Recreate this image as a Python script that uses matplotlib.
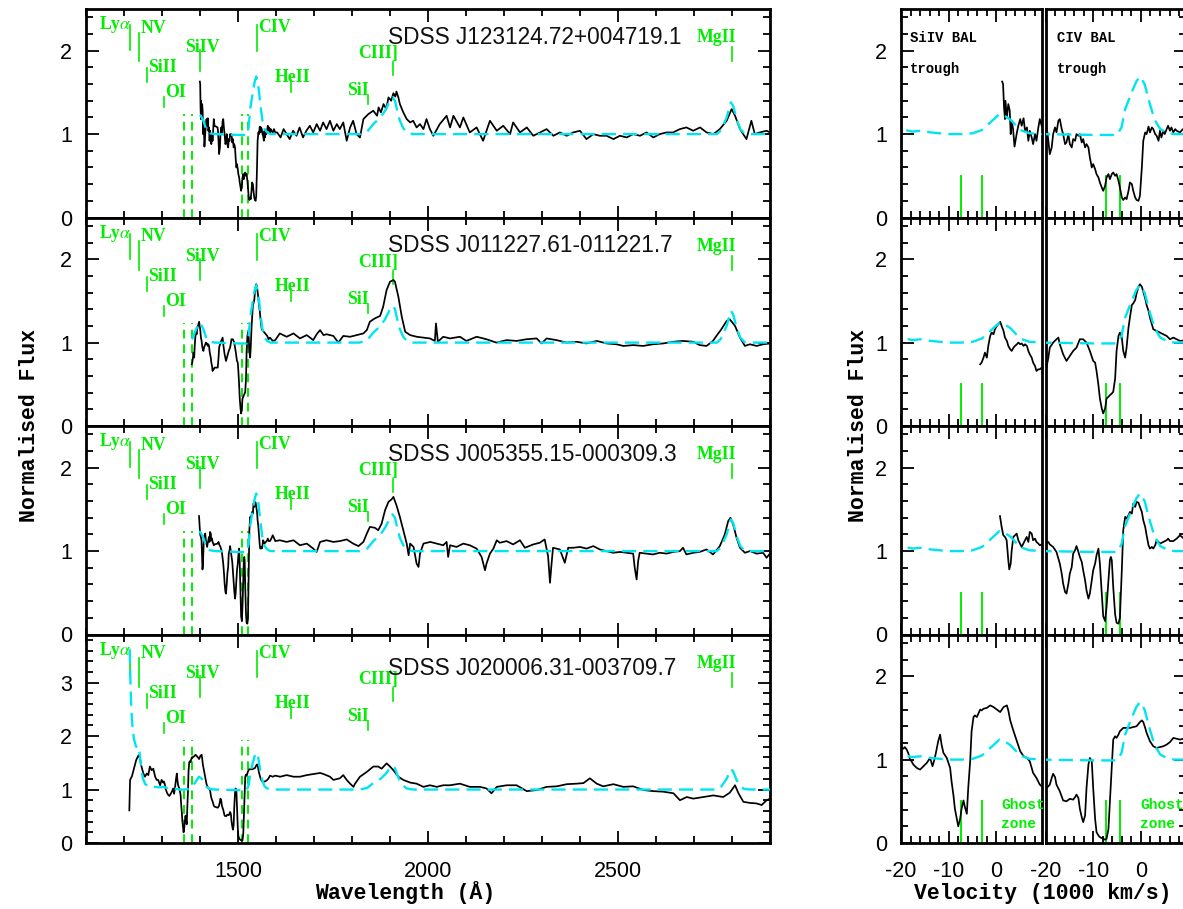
import numpy as np
import matplotlib
matplotlib.use("Agg")
import matplotlib.pyplot as plt
from matplotlib.ticker import MultipleLocator

mpl = matplotlib
mpl.rcParams["font.family"] = ["Liberation Sans", "DejaVu Sans"]
mpl.rcParams["axes.unicode_minus"] = False
mpl.rcParams["mathtext.fontset"] = "stix"

# ------------------------------
# 1. Data
# ------------------------------
C_LIGHT = 299.792          # speed of light in 1000 km/s
LAM_SIIV = 1394.0
LAM_CIV = 1549.0

names = ["SDSS J123124.72+004719.1", "SDSS J011227.61-011221.7",
         "SDSS J005355.15-000309.3", "SDSS J020006.31-003709.7"]

line_names = ["Ly$\\alpha$", "NV", "SiII", "OI", "SiIV", "CIV", "HeII", "SiI", "CIII]", "MgII"]
line_wl = [1216, 1240, 1261, 1304, 1400, 1549, 1640, 1842, 1909, 2799]

# ghost-zone velocity limits (1000 km/s) for SiIV and CIV
ghost_si = [-7.5, -3.0]
ghost_civ = [-7.4, -4.3]

# composite spectrum (cyan dashed)
comp_wl = [1215, 1217, 1219, 1222, 1226, 1231, 1236, 1239, 1242, 1246, 1250, 1256, 1265, 1280,
           1295, 1305, 1312, 1320, 1330, 1347, 1360, 1371, 1380, 1389, 1397, 1402, 1408, 1417,
           1426, 1440, 1500, 1523, 1528, 1532, 1539, 1544, 1548, 1553, 1559, 1564, 1570, 1577,
           1585, 1820, 1840, 1856, 1875, 1887, 1900, 1907, 1913, 1920, 1926, 1935, 1944, 1960,
           2760, 2770, 2786, 2797, 2803, 2812, 2822, 2832, 2850, 2900]
comp_fl = [3.62, 3.00, 2.55, 2.20, 1.95, 1.82, 1.76, 1.78, 1.62, 1.36, 1.20, 1.10, 1.06, 1.05,
           1.04, 1.05, 1.03, 1.04, 1.02, 1.00, 1.00, 1.01, 1.05, 1.15, 1.24, 1.22, 1.17, 1.05,
           1.01, 1.00, 0.99, 0.99, 1.08, 1.30, 1.50, 1.63, 1.69, 1.60, 1.35, 1.17, 1.06, 1.02,
           1.00, 1.00, 1.03, 1.12, 1.20, 1.28, 1.40, 1.44, 1.40, 1.26, 1.16, 1.07, 1.02, 1.00,
           1.00, 1.04, 1.20, 1.38, 1.34, 1.18, 1.06, 1.01, 1.00, 1.00]

# --- J123124.72+004719.1 ---
si_v1 = [1.2, 1.4, 1.6, 1.8, 1.9, 2.2, 2.5, 2.8, 3.0, 3.2, 3.5, 3.8, 4.0, 4.3, 4.6, 5.0, 5.3,
         5.7, 6.0, 6.4, 6.7, 7.0, 7.4, 7.7, 8.1, 8.4, 8.8, 9.1, 9.5]
si_f1 = [1.63, 1.60, 1.32, 1.18, 1.40, 1.20, 1.36, 1.28, 1.00, 1.16, 1.06, 0.85, 0.92, 1.02,
         1.10, 1.18, 1.10, 1.19, 1.04, 1.08, 0.92, 1.04, 0.96, 0.88, 1.00, 0.92, 1.08, 1.18, 1.10]
civ_v1 = [-19.9, -19.6, -19.4, -19.1, -18.7, -18.4, -18.0, -17.7, -17.3, -17.0, -16.6, -16.3,
          -15.9, -15.6, -15.2, -14.9, -14.5, -14.2, -13.8, -13.5, -13.1, -12.8, -12.4, -12.1,
          -11.7, -11.4, -11.0, -10.7, -10.3, -10.0, -9.6, -9.3, -8.9, -8.6, -8.2, -7.9, -7.5,
          -7.2, -6.8, -6.5, -6.1, -5.8, -5.4, -5.1, -4.7, -4.4, -4.0, -3.7, -3.3, -3.0, -2.6,
          -2.3, -1.9, -1.6, -1.2, -0.9, -0.5, -0.2, 0.2, 0.5, 0.9, 1.2, 1.6, 1.9, 2.3, 2.6, 3.0,
          3.3, 3.7, 4.0, 4.3, 4.7, 5.0, 5.4, 5.7, 6.1, 6.4, 6.8, 7.2, 7.5, 8.2, 8.8, 9.5]
civ_f1 = [1.08, 1.02, 0.92, 0.76, 0.84, 1.00, 1.08, 1.02, 1.16, 1.18, 1.06, 1.00, 0.88, 0.90,
          1.00, 0.88, 0.84, 0.94, 0.92, 1.00, 0.98, 1.00, 0.90, 0.94, 0.84, 0.88, 0.84, 0.72,
          0.60, 0.64, 0.58, 0.52, 0.48, 0.42, 0.36, 0.32, 0.38, 0.48, 0.52, 0.46, 0.52, 0.54,
          0.50, 0.52, 0.44, 0.36, 0.24, 0.21, 0.24, 0.22, 0.32, 0.42, 0.40, 0.32, 0.24, 0.21,
          0.20, 0.26, 0.60, 0.92, 1.02, 1.00, 1.09, 1.02, 1.08, 1.06, 1.00, 0.98, 0.92, 1.04,
          0.96, 1.04, 1.00, 1.06, 1.10, 1.04, 1.08, 1.02, 1.06, 1.04, 1.02, 1.06, 1.02]
wl1 = [1603, 1612, 1620, 1628, 1636, 1645, 1654, 1662, 1671, 1680, 1689, 1698, 1707, 1716, 1724,
       1733, 1742, 1751, 1760, 1768, 1777, 1786, 1795, 1803, 1812, 1821, 1830, 1843, 1856, 1866,
       1870, 1876, 1883, 1890, 1896, 1903, 1909, 1914, 1917, 1922, 1926, 1935, 1944, 1953, 1961,
       1970, 1979, 1988, 1996, 2005, 2014, 2031, 2049, 2058, 2067, 2084, 2093, 2110, 2128, 2145,
       2163, 2181, 2198, 2216, 2224, 2242, 2260, 2277, 2295, 2312, 2330, 2347, 2365, 2382, 2400,
       2417, 2435, 2452, 2470, 2488, 2505, 2523, 2540, 2558, 2575, 2593, 2610, 2628, 2645, 2663,
       2680, 2698, 2716, 2733, 2751, 2768, 2786, 2799, 2808, 2821, 2838, 2851, 2860, 2873, 2891,
       2900]
fl1 = [1.02, 0.96, 1.06, 1.00, 0.94, 1.04, 0.98, 1.08, 0.96, 1.04, 1.10, 1.02, 1.12, 1.04, 1.14,
       1.06, 1.16, 1.04, 1.12, 1.06, 1.14, 0.92, 1.08, 1.16, 1.00, 0.96, 1.18, 1.24, 1.28, 1.22,
       1.32, 1.26, 1.36, 1.30, 1.44, 1.40, 1.49, 1.45, 1.51, 1.44, 1.36, 1.26, 1.18, 1.14, 1.16,
       1.08, 1.12, 1.06, 1.18, 1.06, 0.98, 1.12, 1.22, 1.08, 1.22, 1.08, 1.20, 1.02, 1.08, 0.92,
       1.16, 1.04, 1.10, 1.00, 1.14, 1.02, 1.08, 0.98, 1.02, 1.06, 0.98, 1.02, 0.98, 1.02, 1.04,
       0.94, 1.00, 0.98, 0.98, 0.94, 0.98, 0.96, 1.00, 0.98, 1.02, 0.96, 1.00, 1.02, 1.02, 1.06,
       1.08, 1.04, 1.08, 1.02, 1.00, 1.06, 1.16, 1.30, 1.22, 1.06, 0.94, 1.16, 1.00, 1.02, 1.04,
       1.02]

# --- J011227.61-011221.7 ---
si_v2 = [-3.4, -3.1, -2.7, -2.4, -2.0, -1.7, -1.3, -1.0, -0.6, -0.3, 0.1, 0.4, 0.8, 1.1, 1.5,
         1.8, 2.2, 2.5, 2.9, 3.2, 3.6, 3.9, 4.3, 4.6, 5.0, 5.3, 5.7, 6.0, 6.4, 6.7, 7.0, 7.4,
         7.7, 8.1, 8.4, 8.8, 9.1, 9.5]
si_f2 = [0.74, 0.76, 0.82, 0.88, 0.82, 0.96, 1.08, 1.12, 1.10, 1.16, 1.20, 1.22, 1.25, 1.20,
         1.14, 1.06, 1.02, 0.96, 0.92, 0.90, 0.94, 0.96, 0.98, 1.00, 0.98, 0.99, 0.96, 0.98,
         0.96, 0.90, 0.86, 0.82, 0.76, 0.72, 0.66, 0.68, 0.68, 0.70]
civ_v2 = [-19.8, -19.4, -19.1, -18.4, -17.7, -17.3, -17.0, -16.3, -15.6, -14.9, -14.2, -13.5,
          -12.8, -12.1, -11.4, -10.7, -10.0, -9.6, -9.3, -8.9, -8.6, -8.2, -7.9, -7.5, -7.2,
          -6.8, -6.5, -6.1, -5.8, -5.4, -5.1, -4.7, -4.4, -4.0, -3.7, -3.3, -3.0, -2.6, -2.3,
          -1.9, -1.6, -1.2, -0.9, -0.5, -0.2, 0.2, 0.5, 0.9, 1.2, 1.6, 1.9, 2.3, 2.6, 3.3, 4.0,
          4.7, 5.4, 6.1, 6.8, 7.5, 8.2, 9.5]
civ_f2 = [0.70, 0.82, 0.94, 1.00, 1.04, 1.06, 0.98, 0.86, 0.78, 0.84, 0.90, 0.94, 1.04, 1.04,
          1.00, 0.90, 0.78, 0.76, 0.66, 0.49, 0.33, 0.21, 0.15, 0.21, 0.33, 0.35, 0.37, 0.39,
          0.41, 0.57, 0.90, 1.08, 1.12, 1.06, 0.90, 0.82, 0.94, 1.18, 1.30, 1.45, 1.47, 1.51,
          1.59, 1.67, 1.70, 1.67, 1.61, 1.53, 1.45, 1.38, 1.30, 1.22, 1.16, 1.14, 1.12, 1.10,
          1.08, 1.04, 1.06, 1.04, 1.02, 1.03]
wl2 = [1610, 1628, 1646, 1663, 1681, 1698, 1707, 1716, 1725, 1733, 1751, 1764, 1777, 1795, 1812,
       1830, 1839, 1847, 1860, 1874, 1882, 1891, 1900, 1909, 1913, 1922, 1931, 1940, 1953, 1970,
       1988, 2005, 2018, 2021, 2026, 2040, 2058, 2084, 2101, 2128, 2154, 2180, 2207, 2233, 2259,
       2286, 2299, 2312, 2338, 2365, 2391, 2417, 2444, 2470, 2496, 2514, 2540, 2566, 2592, 2619,
       2645, 2671, 2698, 2715, 2733, 2750, 2759, 2772, 2786, 2794, 2808, 2821, 2834, 2847, 2865,
       2882, 2900]
fl2 = [1.11, 1.07, 1.11, 1.05, 1.09, 1.03, 1.10, 1.15, 1.09, 1.10, 1.08, 1.00, 1.08, 1.07, 1.09,
       1.11, 1.15, 1.25, 1.29, 1.32, 1.43, 1.63, 1.73, 1.75, 1.73, 1.55, 1.31, 1.13, 1.09, 1.07,
       1.06, 1.05, 1.02, 1.23, 1.01, 1.07, 1.05, 1.07, 1.02, 1.07, 1.04, 1.00, 1.03, 1.02, 1.04,
       1.05, 0.99, 1.05, 1.03, 1.00, 1.01, 0.99, 1.02, 0.99, 0.98, 0.96, 0.97, 0.96, 0.98, 0.99,
       1.01, 1.02, 1.01, 0.97, 0.96, 1.02, 1.08, 1.16, 1.26, 1.28, 1.20, 1.06, 0.96, 0.98, 0.96,
       0.98, 0.99]

# --- J005355.15-000309.3 ---
si_v3 = [0.75, 1.1, 1.45, 1.8, 2.15, 2.5, 2.7, 3.0, 3.2, 3.55, 3.9, 4.25, 4.6, 4.95, 5.3, 5.65,
         6.0, 6.35, 6.7, 7.0, 7.4, 7.7, 8.1, 8.4, 8.8, 9.1, 9.5]
si_f3 = [1.42, 1.29, 1.19, 1.17, 1.13, 0.89, 0.78, 0.85, 1.00, 1.17, 1.19, 1.21, 1.13, 1.09,
         1.05, 1.09, 1.13, 1.17, 1.11, 1.23, 1.21, 1.13, 1.15, 1.11, 1.09, 1.07, 1.08]
civ_v3 = [-19.9, -19.4, -19.1, -18.4, -17.7, -17.0, -16.6, -16.3, -15.9, -15.6, -15.2, -14.9,
          -14.5, -14.2, -13.8, -13.5, -13.1, -12.8, -12.4, -12.1, -11.7, -11.4, -11.0, -10.7,
          -10.3, -10.0, -9.6, -9.3, -8.9, -8.6, -8.2, -7.9, -7.5, -7.2, -6.8, -6.5, -6.3, -6.1,
          -5.8, -5.4, -5.1, -4.7, -4.4, -4.0, -3.7, -3.3, -3.0, -2.6, -2.3, -1.9, -1.6, -1.2,
          -0.9, -0.5, -0.2, 0.2, 0.5, 0.9, 1.2, 1.6, 1.9, 2.3, 2.6, 3.0, 3.3, 3.7, 4.0, 4.7,
          5.4, 5.7, 6.1, 6.8, 7.5, 8.2, 9.0, 9.5]
civ_f3 = [1.09, 1.11, 1.08, 1.05, 0.99, 0.85, 0.73, 0.61, 0.51, 0.49, 0.61, 0.73, 0.81, 0.97,
          1.01, 1.06, 0.99, 0.93, 0.87, 0.77, 0.65, 0.53, 0.43, 0.49, 0.65, 0.77, 0.85, 0.95,
          1.03, 0.85, 0.49, 0.22, 0.16, 0.33, 0.65, 0.89, 0.93, 0.89, 0.57, 0.24, 0.14, 0.13,
          0.20, 0.77, 1.25, 1.41, 1.39, 1.43, 1.47, 1.45, 1.57, 1.53, 1.59, 1.58, 1.53, 1.47,
          1.37, 1.29, 1.19, 1.07, 1.03, 1.05, 1.03, 1.07, 1.13, 1.11, 1.09, 1.11, 1.13, 1.15,
          1.12, 1.12, 1.15, 1.19, 1.15, 1.12]
wl3 = [1610, 1628, 1646, 1663, 1681, 1698, 1707, 1716, 1733, 1751, 1768, 1786, 1803, 1817, 1830,
       1839, 1847, 1860, 1869, 1878, 1887, 1896, 1904, 1909, 1917, 1926, 1935, 1944, 1949, 1953,
       1962, 1970, 1975, 1979, 1988, 2006, 2023, 2040, 2049, 2053, 2058, 2075, 2093, 2110, 2128,
       2141, 2150, 2154, 2163, 2172, 2181, 2189, 2207, 2224, 2242, 2255, 2277, 2294, 2307, 2316,
       2321, 2325, 2329, 2347, 2360, 2369, 2382, 2400, 2417, 2435, 2452, 2470, 2487, 2505, 2522,
       2540, 2544, 2549, 2553, 2557, 2575, 2592, 2610, 2628, 2645, 2663, 2671, 2680, 2698, 2715,
       2733, 2750, 2768, 2781, 2790, 2796, 2803, 2812, 2821, 2834, 2847, 2865, 2882, 2891, 2898]
fl3 = [1.13, 1.11, 1.13, 1.07, 1.09, 1.03, 0.99, 1.11, 1.13, 1.11, 1.12, 1.14, 1.09, 1.06, 1.11,
       1.21, 1.29, 1.28, 1.25, 1.33, 1.49, 1.59, 1.62, 1.65, 1.55, 1.41, 1.25, 1.09, 0.95, 1.09,
       1.05, 0.85, 0.81, 0.97, 1.09, 1.11, 1.09, 1.07, 1.11, 0.93, 1.07, 1.05, 1.09, 1.07, 1.03,
       0.93, 0.77, 0.85, 0.97, 1.03, 1.13, 1.10, 1.12, 1.08, 1.13, 1.04, 1.08, 1.10, 1.14, 0.94,
       0.62, 0.84, 1.04, 1.02, 0.86, 1.04, 1.04, 1.05, 1.03, 1.06, 1.02, 1.00, 0.98, 0.99, 0.98,
       0.97, 0.80, 0.66, 0.88, 0.98, 0.97, 0.96, 0.98, 0.97, 0.99, 1.00, 1.04, 0.96, 0.98, 0.99,
       1.02, 0.96, 1.06, 1.20, 1.36, 1.40, 1.32, 1.16, 1.04, 0.98, 1.00, 0.97, 0.98, 0.92, 0.96]

# --- J020006.31-003709.7 ---
pre_wl4 = [1214, 1216, 1221, 1224, 1228, 1232, 1238, 1242, 1246, 1251, 1255, 1260, 1264, 1268,
           1273, 1277, 1282, 1286, 1290, 1295, 1299]
pre_fl4 = [0.61, 1.18, 1.25, 1.33, 1.43, 1.55, 1.64, 1.58, 1.43, 1.30, 1.24, 1.30, 1.27, 1.43,
           1.36, 1.39, 1.24, 1.18, 1.18, 1.08, 1.18]
si_v4 = [-19.9, -19.5, -19.2, -18.8, -18.5, -18.1, -17.8, -17.4, -16.7, -16.0, -15.3, -14.6,
         -13.9, -13.4, -12.9, -12.2, -11.8, -11.5, -11.1, -10.4, -9.7, -9.4, -9.0, -8.7, -8.3,
         -8.0, -7.6, -7.3, -6.9, -6.6, -6.2, -5.9, -5.5, -5.2, -4.8, -4.5, -4.1, -3.4, -3.1,
         -2.7, -2.0, -1.3, -0.6, 0.1, 0.8, 1.5, 2.2, 2.5, 2.9, 3.6, 4.3, 5.0, 5.7, 6.4, 7.0,
         7.4, 7.7, 8.4, 9.1, 9.5]
si_f4 = [1.15, 1.13, 1.15, 1.12, 1.08, 1.00, 0.98, 0.94, 0.90, 0.88, 0.92, 0.96, 1.02, 0.92,
         1.02, 1.22, 1.30, 1.18, 1.08, 1.02, 0.90, 0.74, 0.57, 0.41, 0.29, 0.20, 0.29, 0.41,
         0.51, 0.43, 0.35, 0.66, 0.98, 1.34, 1.51, 1.53, 1.51, 1.60, 1.59, 1.61, 1.62, 1.65,
         1.63, 1.60, 1.57, 1.63, 1.65, 1.59, 1.47, 1.34, 1.22, 1.10, 1.04, 1.02, 0.98, 0.90,
         0.84, 0.78, 0.70, 0.68]
civ_v4 = [-19.8, -19.4, -19.1, -18.7, -18.4, -18.0, -17.7, -17.0, -16.3, -15.6, -14.9, -14.2,
          -13.8, -13.5, -13.1, -12.8, -12.4, -12.1, -11.7, -11.4, -11.0, -10.7, -10.3, -10.0,
          -9.6, -9.3, -8.9, -8.6, -7.9, -7.5, -7.2, -6.8, -6.5, -6.1, -5.8, -5.4, -5.1, -4.7,
          -4.4, -3.7, -3.0, -2.3, -1.6, -0.9, -0.2, 0.2, 0.5, 0.9, 1.2, 1.9, 2.6, 3.3, 4.0, 4.7,
          5.4, 6.1, 6.8, 7.5, 8.2, 9.5]
civ_f4 = [0.66, 0.68, 0.70, 0.78, 0.83, 0.79, 0.70, 0.62, 0.51, 0.50, 0.53, 0.52, 0.55, 0.58,
          0.54, 0.41, 0.31, 0.25, 0.33, 0.66, 0.94, 1.02, 0.98, 0.66, 0.29, 0.13, 0.09, 0.07,
          0.05, 0.04, 0.05, 0.17, 0.49, 0.94, 1.24, 1.28, 1.26, 1.30, 1.34, 1.38, 1.38, 1.38,
          1.39, 1.40, 1.45, 1.47, 1.45, 1.38, 1.32, 1.22, 1.16, 1.14, 1.15, 1.16, 1.18, 1.21,
          1.26, 1.25, 1.24, 1.26]
wl4 = [1611, 1628, 1646, 1663, 1681, 1698, 1716, 1725, 1742, 1751, 1768, 1777, 1786, 1795, 1804,
       1808, 1821, 1839, 1856, 1869, 1878, 1891, 1900, 1909, 1922, 1935, 1953, 1970, 1988, 2005,
       2023, 2040, 2058, 2084, 2110, 2137, 2154, 2167, 2181, 2207, 2233, 2260, 2286, 2312, 2339,
       2365, 2391, 2409, 2426, 2444, 2461, 2488, 2514, 2540, 2567, 2593, 2619, 2646, 2663, 2681,
       2698, 2724, 2751, 2777, 2794, 2808, 2817, 2830, 2847, 2865, 2878, 2891, 2900]
fl4 = [1.24, 1.27, 1.24, 1.24, 1.27, 1.29, 1.31, 1.29, 1.24, 1.18, 1.21, 1.27, 1.18, 1.11, 1.05,
       1.11, 1.24, 1.33, 1.43, 1.43, 1.39, 1.49, 1.43, 1.36, 1.24, 1.18, 1.13, 1.11, 1.05, 1.08,
       1.05, 1.08, 1.08, 1.11, 1.05, 1.05, 1.02, 0.93, 1.05, 1.08, 1.08, 0.97, 0.99, 1.05, 1.06,
       1.10, 1.11, 1.12, 1.21, 1.11, 1.06, 1.10, 1.05, 1.06, 0.99, 0.97, 0.96, 0.93, 0.80, 0.86,
       0.83, 0.86, 0.89, 0.86, 0.94, 1.08, 0.93, 0.77, 0.75, 0.74, 0.71, 0.80, 0.83]

# ------------------------------
# 2. Styling / layout
# ------------------------------
GREEN = "#00ee00"
CYAN = "#00e4f2"
W_PX, H_PX = 1183, 909
ROW_TOPS = [9, 217.5, 426, 634.5]
ROW_H = 208.5
VEL_X0 = [901, 1045.5]
VEL_W = 140.7

# label placement (text left edge in Å, baseline / tick ends in axes fraction)
label_x = [1134, 1245, 1263, 1308, 1360, 1553, 1597, 1787, 1816, 2708]
label_y = [0.904, 0.885, 0.697, 0.577, 0.793, 0.889, 0.649, 0.587, 0.764, 0.840]
tick_top = [0.923, 0.885, 0.716, 0.577, 0.803, 0.923, 0.659, 0.587, 0.745, 0.817]
tick_bot = [0.803, 0.750, 0.649, 0.529, 0.702, 0.798, 0.601, 0.543, 0.683, 0.750]
name_y = [0.865, 0.865, 0.862, 0.837]
ytop = [2.5, 2.5, 2.5, 3.9]

SERIF = ["Liberation Serif", "DejaVu Serif"]
MONO = ["Liberation Mono", "DejaVu Sans Mono"]


def to_wave(v, lam0):
    return lam0 * (1.0 + np.asarray(v, dtype=float) / C_LIGHT)


def to_vel(w, lam0):
    return (np.asarray(w, dtype=float) / lam0 - 1.0) * C_LIGHT


def rect(x0, w, top):
    return [x0 / W_PX, 1 - (top + ROW_H) / H_PX, w / W_PX, ROW_H / H_PX]


def frame(ax, left=True, right=True, xlabels=True, ylabels=True):
    for sp in ax.spines.values():
        sp.set_linewidth(2.0)
    ax.tick_params(which="both", direction="in", top=True, bottom=True,
                   left=left, right=right, width=1.3, labelsize=15.5,
                   labelbottom=xlabels, labelleft=ylabels)
    ax.tick_params(which="major", length=9)
    ax.tick_params(which="minor", length=5)
    ax.tick_params(axis="y", pad=10)
    ax.tick_params(axis="x", pad=13)


spectra = [
    (si_v1, si_f1, civ_v1, civ_f1, [], [], wl1, fl1),
    (si_v2, si_f2, civ_v2, civ_f2, [], [], wl2, fl2),
    (si_v3, si_f3, civ_v3, civ_f3, [], [], wl3, fl3),
    (si_v4, si_f4, civ_v4, civ_f4, pre_wl4, pre_fl4, wl4, fl4),
]

comp_wl = np.array(comp_wl, dtype=float)
comp_fl = np.array(comp_fl, dtype=float)
ghost_wl = list(to_wave(ghost_si, LAM_SIIV)) + list(to_wave(ghost_civ, LAM_CIV))

# ------------------------------
# 3. Figure
# ------------------------------
fig = plt.figure(figsize=(W_PX / 100, H_PX / 100), dpi=100)

for i, (sv, sf, cv, cf, pw, pf, w, f) in enumerate(spectra):
    wave = np.concatenate([pw, to_wave(sv, LAM_SIIV), to_wave(cv, LAM_CIV), w])
    flux = np.concatenate([pf, sf, cf, f])
    order = np.argsort(wave)
    wave, flux = wave[order], flux[order]

    # ---------- wavelength panel ----------
    ax = fig.add_axes(rect(86, 684, ROW_TOPS[i]))
    ax.set_xlim(1100, 2900)
    ax.set_ylim(0, ytop[i])
    ax.xaxis.set_major_locator(MultipleLocator(500))
    ax.xaxis.set_minor_locator(MultipleLocator(100))
    ax.yaxis.set_major_locator(MultipleLocator(1))
    ax.yaxis.set_minor_locator(MultipleLocator(0.2))

    ax.plot(wave, flux, color="black", lw=1.25, zorder=3)
    start = wave[0]
    m = comp_wl > start
    cw = np.concatenate([[start], comp_wl[m]])
    cfl = np.concatenate([[np.interp(start, comp_wl, comp_fl)], comp_fl[m]])
    ax.plot(cw, cfl, color=CYAN, lw=1.7, dashes=(6, 3), zorder=4)

    for lam in ghost_wl:
        ax.axvline(lam, 0, 0.495, color=GREEN, lw=1.4, dashes=(4.5, 3), zorder=2)

    trans = ax.get_xaxis_transform()
    for nm, lam, tx, ty, t0, t1 in zip(line_names, line_wl, label_x, label_y, tick_top, tick_bot):
        ax.axvline(lam, t1, t0, color=GREEN, lw=1.2)
        ax.text(tx, ty, nm, transform=trans, color=GREEN, fontsize=12.8,
                fontweight="bold", family=SERIF, ha="left", va="baseline")

    ax.text(0.4415, name_y[i], names[i], transform=ax.transAxes, fontsize=16.3,
            color="#111111", ha="left", va="center")
    frame(ax, xlabels=(i == 3))

    # ---------- velocity panels ----------
    for j, (lam0, gv) in enumerate([(LAM_SIIV, ghost_si), (LAM_CIV, ghost_civ)]):
        axv = fig.add_axes(rect(VEL_X0[j], VEL_W, ROW_TOPS[i]))
        axv.set_xlim(-20, 9.5)
        axv.set_ylim(0, 2.5)
        axv.xaxis.set_major_locator(MultipleLocator(10))
        axv.xaxis.set_minor_locator(MultipleLocator(2))
        axv.yaxis.set_major_locator(MultipleLocator(1))
        axv.yaxis.set_minor_locator(MultipleLocator(0.2))

        axv.plot(to_vel(wave, lam0), flux, color="black", lw=1.25, zorder=3)
        axv.plot(to_vel(comp_wl, lam0), comp_fl, color=CYAN, lw=1.7, dashes=(6, 3), zorder=4)
        for v in gv:
            axv.axvline(v, 0, 0.2, color=GREEN, lw=1.4, zorder=2)

        if i == 0:
            ion = "SiIV BAL" if j == 0 else "CIV BAL"
            x0 = -18.1 if j == 0 else -17.6
            tr = axv.get_xaxis_transform()
            axv.text(x0, 0.84, ion, transform=tr, fontsize=10, fontweight="bold",
                     family=MONO, ha="left", va="baseline")
            axv.text(x0, 0.692, "trough", transform=tr, fontsize=10, fontweight="bold",
                     family=MONO, ha="left", va="baseline")
        if i == 3:
            x0 = 1.0 if j == 0 else -0.2
            tr = axv.get_xaxis_transform()
            axv.text(x0, 0.163, "Ghost", transform=tr, fontsize=10.5, fontweight="bold",
                     family=MONO, color=GREEN, ha="left", va="baseline", clip_on=False)
            axv.text(x0, 0.072, "zone", transform=tr, fontsize=10.5, fontweight="bold",
                     family=MONO, color=GREEN, ha="left", va="baseline", clip_on=False)

        frame(axv, left=(j == 0), right=(j == 1), xlabels=(i == 3), ylabels=(j == 0))

# axis titles
lab_kw = dict(family=MONO, fontweight="bold", fontsize=15.5)
fig.text(30 / W_PX, 1 - 425 / H_PX, "Normalised Flux", rotation=90, ha="center", va="center", **lab_kw)
fig.text(858 / W_PX, 1 - 425 / H_PX, "Normalised Flux", rotation=90, ha="center", va="center", **lab_kw)
fig.text(405 / W_PX, 1 - 893 / H_PX, "Wavelength (Å)", ha="center", va="center", **lab_kw)
fig.text(1043 / W_PX, 1 - 893 / H_PX, "Velocity (1000 km/s)", ha="center", va="center", **lab_kw)

fig.savefig("out.png", dpi=100)
